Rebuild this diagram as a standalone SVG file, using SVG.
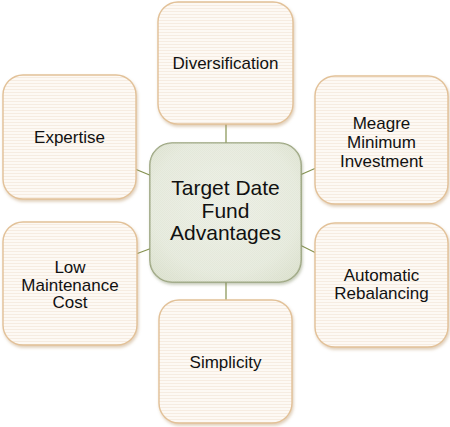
<svg xmlns="http://www.w3.org/2000/svg" width="450" height="427" viewBox="0 0 450 427">
<style>
.box{fill:url(#stripes);stroke:#E2C198;stroke-width:1.4;filter:url(#sh)}
.hub{fill:url(#hubfill);stroke:#98A27C;stroke-width:1.6;filter:url(#sh2)}
.lbl{font-family:"Liberation Sans",Arial,sans-serif;font-size:17px;fill:#111;text-anchor:middle}
.hubl{font-family:"Liberation Sans",Arial,sans-serif;font-size:21px;fill:#111;text-anchor:middle}
.con{stroke:#84914F;stroke-width:1.2;fill:none}
</style>
<defs>
<pattern id="stripes" width="4" height="3" patternUnits="userSpaceOnUse">
<rect width="4" height="3" fill="#FDF9F4"/>
<rect y="2" width="4" height="1" fill="#F6ECE1"/>
</pattern>
<pattern id="checks" width="2" height="2" patternUnits="userSpaceOnUse">
<rect width="2" height="2" fill="#EBEEE3"/>
<rect width="1" height="1" fill="#DEE3D3"/>
<rect x="1" y="1" width="1" height="1" fill="#DEE3D3"/>
</pattern>
<radialGradient id="hubfill" cx="0.5" cy="0.45" r="0.7">
<stop offset="0" stop-color="#F0F2EA"/>
<stop offset="0.7" stop-color="#E7EBDE"/>
<stop offset="1" stop-color="#D6DCC6"/>
</radialGradient>
<filter id="sh" x="-10%" y="-10%" width="125%" height="125%">
<feDropShadow dx="1" dy="2" stdDeviation="1.5" flood-color="#B99466" flood-opacity="0.45"/>
</filter>
<filter id="sh2" x="-10%" y="-10%" width="125%" height="125%">
<feDropShadow dx="1" dy="2" stdDeviation="1.5" flood-color="#7E8A60" flood-opacity="0.45"/>
</filter>
</defs>
<rect width="450" height="427" fill="#FFFFFF"/>
<g id="connectors">
<line class="con" x1="226" y1="124" x2="226" y2="144"/>
<line class="con" x1="226" y1="281" x2="226" y2="301"/>
<line class="con" x1="135" y1="169" x2="152" y2="176"/>
<line class="con" x1="136" y1="254" x2="152" y2="248"/>
<line class="con" x1="300" y1="175" x2="316" y2="168"/>
<line class="con" x1="300" y1="245" x2="316" y2="253"/>
</g>
<g id="diversification">
<rect class="box" x="158" y="2" width="135" height="122" rx="20"/>
<text class="lbl" x="225.5" y="69">Diversification</text>
</g>
<g id="expertise">
<rect class="box" x="3" y="75" width="133" height="124" rx="20"/>
<text class="lbl" x="69.5" y="143">Expertise</text>
</g>
<g id="meagre">
<rect class="box" x="315" y="76" width="133" height="128" rx="20"/>
<text class="lbl" x="381.5" y="128.5">Meagre</text>
<text class="lbl" x="381.5" y="147.5">Minimum</text>
<text class="lbl" x="381.5" y="166.5">Investment</text>
</g>
<g id="low-maintenance">
<rect class="box" x="3" y="222" width="134" height="123" rx="20"/>
<text class="lbl" x="70" y="273">Low</text>
<text class="lbl" x="70" y="290.5">Maintenance</text>
<text class="lbl" x="70" y="308">Cost</text>
</g>
<g id="automatic">
<rect class="box" x="315" y="223" width="133" height="124" rx="20"/>
<text class="lbl" x="381.5" y="281">Automatic</text>
<text class="lbl" x="381.5" y="298.5">Rebalancing</text>
</g>
<g id="simplicity">
<rect class="box" x="159" y="300" width="133" height="123" rx="20"/>
<text class="lbl" x="225.5" y="368">Simplicity</text>
</g>
<g id="hub">
<rect class="hub" x="150" y="143" width="151" height="139" rx="22"/>
<rect x="150" y="143" width="151" height="139" rx="22" fill="url(#checks)" opacity="0.4"/>
<text class="hubl" x="225.5" y="195">Target Date</text>
<text class="hubl" x="225.5" y="217.5">Fund</text>
<text class="hubl" x="225.5" y="240">Advantages</text>
</g>
</svg>
